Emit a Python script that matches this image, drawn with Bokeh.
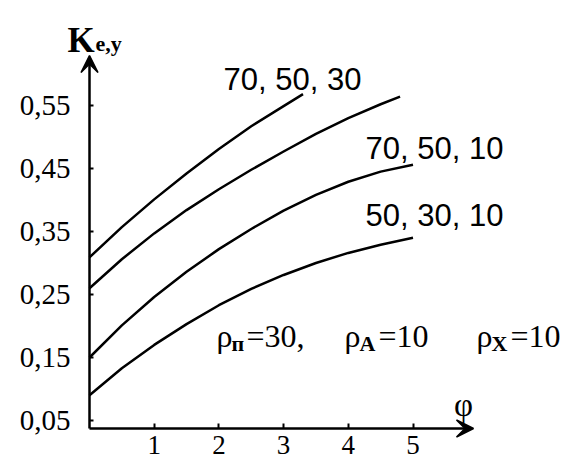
from bokeh.plotting import figure
from bokeh.models import Range1d, LinearAxis, FixedTicker, Arrow, VeeHead, Label
from bokeh.embed import file_html
from bokeh.resources import INLINE

# ---- data ----
phi_1 = [0, 0.5, 1, 1.5, 2, 2.5, 3, 3.3]
k_1 = [0.309, 0.357, 0.401, 0.442, 0.481, 0.517, 0.549, 0.568]

phi_2 = [0, 0.5, 1, 1.5, 2, 2.5, 3, 3.5, 4, 4.5, 4.8]
k_2 = [0.260, 0.306, 0.347, 0.384, 0.417, 0.448, 0.477, 0.505, 0.530, 0.552, 0.564]

phi_3 = [0, 0.5, 1, 1.5, 2, 2.5, 3, 3.5, 4, 4.5, 5]
k_3 = [0.150, 0.201, 0.246, 0.286, 0.322, 0.354, 0.383, 0.408, 0.429, 0.445, 0.456]

phi_4 = [0, 0.5, 1, 1.5, 2, 2.5, 3, 3.5, 4, 4.5, 5]
k_4 = [0.090, 0.133, 0.170, 0.203, 0.233, 0.259, 0.281, 0.300, 0.316, 0.329, 0.340]

curve_labels = ["70, 50, 30", "70, 50, 10", "50, 30, 10"]
x_ticks = [1, 2, 3, 4, 5]
y_ticks = [0.05, 0.15, 0.25, 0.35, 0.45, 0.55]
y_tick_labels = ["0,05", "0,15", "0,25", "0,35", "0,45", "0,55"]

# ---- pixel -> data helpers (reference pixels) ----
def X(px):
    return (px - 89) / 64.7

def Y(py):
    return 0.05 + (420 - py) / 630.0

W, H = 569, 465
axis_level = Y(428)

p = figure(width=W, height=H,
           x_range=Range1d(X(0), X(W)), y_range=Range1d(Y(H), Y(0)),
           output_backend="svg", toolbar_location=None,
           x_axis_type=None, y_axis_type=None, min_border=0,
           outline_line_color=None)
p.xgrid.visible = False
p.ygrid.visible = False
p.background_fill_color = "white"
p.border_fill_color = "white"

serif = "Liberation Serif"
sans = "Liberation Sans"

xaxis = LinearAxis(fixed_location=axis_level, ticker=FixedTicker(ticks=x_ticks),
                   axis_line_color=None, major_tick_in=5, major_tick_out=0,
                   major_tick_line_width=2, major_tick_line_color="black",
                   minor_tick_line_color=None,
                   major_label_text_font=serif, major_label_text_font_size="27px",
                   major_label_text_color="black", major_label_standoff=7)
p.add_layout(xaxis, "below")

yaxis = LinearAxis(fixed_location=0, ticker=FixedTicker(ticks=y_ticks),
                   major_label_overrides={t: l for t, l in zip(y_ticks, y_tick_labels)},
                   axis_line_color=None, major_tick_in=4, major_tick_out=0,
                   major_tick_line_width=2, major_tick_line_color="black",
                   minor_tick_line_color=None,
                   major_label_text_font=serif, major_label_text_font_size="29px",
                   major_label_text_color="black", major_label_standoff=19)
p.add_layout(yaxis, "left")

# axes with arrows
p.add_layout(Arrow(x_start=0, y_start=axis_level, x_end=0, y_end=Y(55),
                   line_width=2.5, line_color="black",
                   end=VeeHead(size=17, fill_color="black", line_color="black", line_width=1.5)))
p.add_layout(Arrow(x_start=0, y_start=axis_level, x_end=X(473), y_end=axis_level,
                   line_width=2.5, line_color="black",
                   end=VeeHead(size=17, fill_color="black", line_color="black", line_width=1.5)))

for xs, ys in [(phi_1, k_1), (phi_2, k_2), (phi_3, k_3), (phi_4, k_4)]:
    p.line(xs, ys, line_width=2.5, line_color="black", line_join="round")

def lab(px, py, text, font, size, style="normal", align="left", baseline="alphabetic"):
    p.add_layout(Label(x=X(px), y=Y(py), text=text, text_font=font,
                       text_font_size=size, text_font_style=style,
                       text_align=align, text_baseline=baseline, text_color="black"))

# axis titles
lab(67, 40, "K", serif, "35px", "bold")
lab(95, 43, "e,y", serif, "22px", "bold")
lab(463, 404, "φ", serif, "33px", "normal", "center", "middle")

# curve labels
lab(223, 79, curve_labels[0], sans, "31px")
lab(365, 148, curve_labels[1], sans, "31px")
lab(365, 215, curve_labels[2], sans, "31px")

# parameter legend
lab(216, 335, "ρ", serif, "32px")
lab(231, 343, "п", serif, "22px", "bold")
lab(246, 335, "=30,", serif, "32px")
lab(344, 335, "ρ", serif, "32px")
lab(359, 343, "A", serif, "22px", "bold")
lab(378, 335, "=10", serif, "32px")
lab(476, 335, "ρ", serif, "32px")
lab(491, 343, "X", serif, "22px", "bold")
lab(510, 335, "=10", serif, "32px")

open("out.html", "w").write(file_html(p, INLINE))
